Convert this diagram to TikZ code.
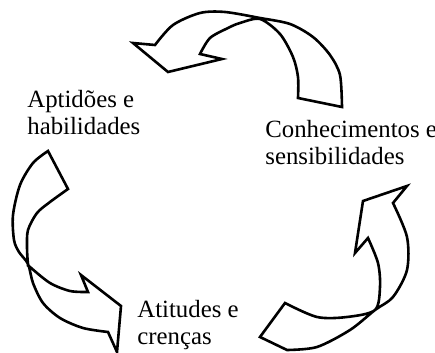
\documentclass[tikz,border=0pt]{standalone}
\usepackage{fontspec}
\setmainfont{Liberation Serif}

\begin{document}
\begin{tikzpicture}[x=0.5pt, y=-0.5pt,
    ribbon/.style={draw, line width=1.3pt, fill=white},
    lbl/.style={inner sep=0pt, anchor=base west, align=left,
      font=\fontsize{12.4}{13.5}\selectfont}]
  \useasboundingbox (0,0) rectangle (435,353);

  % seta de cima
  \draw[ribbon] plot[smooth] coordinates {(155,45) (173,25) (200,13) (225,12)
      (260,18) (290,24) (313,37) (330,55) (340,75) (342,107)}
    -- plot[smooth] coordinates {(298,98) (298,77) (293,57) (280,34) (260,19)
      (240,23) (228,28) (210,38) (200,54)}
    -- (222,59) -- (168,72) -- (133,43) -- cycle;

  % seta da esquerda
  \draw[ribbon] plot[smooth] coordinates {(48,151) (33,163) (20,185) (13,215)
      (14,240) (19,252) (28,264) (33,283) (43,303) (60,318) (83,328) (108,332)}
    -- (117,352) -- (121,306) -- (81,275)
    -- plot[smooth] coordinates {(88,292) (70,291) (50,283) (30,267) (28,264)
      (27,247) (28,230) (37,213) (50,202) (68,189)}
    -- cycle;

  % seta da direita
  \draw[ribbon] plot[smooth] coordinates {(285,303) (317,317) (347,317) (375,310)
      (380,287) (378,263) (368,238)}
    -- (355,253) -- (363,201) -- (407,186)
    -- plot[smooth] coordinates {(393,203) (407,237) (407,270) (393,297) (375,310)
      (350,330) (317,347) (287,350)}
    -- (260,337) -- cycle;

  % a ancora base fica na ultima linha
  \node[lbl] (aptidoes) at (27,135) {Aptidões e\\habilidades};
  \node[lbl] (conhecimentos) at (265,165) {Conhecimentos e\\sensibilidades};
  \node[lbl] (atitudes) at (137,345) {Atitudes e\\crenças};
\end{tikzpicture}
\end{document}
